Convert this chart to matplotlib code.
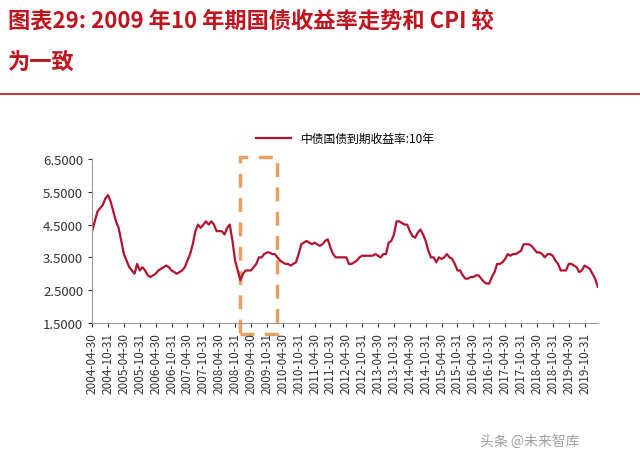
import matplotlib.pyplot as plt
from matplotlib import font_manager
from matplotlib.patches import Rectangle
from matplotlib.lines import Line2D

cjk = sorted({f.name for f in font_manager.fontManager.ttflist if "Sans CJK" in f.name})
cjk_name = "Noto Sans CJK SC" if "Noto Sans CJK SC" in cjk else (cjk[0] if cjk else "DejaVu Sans")
plt.rcParams["font.family"] = "sans-serif"
plt.rcParams["font.sans-serif"] = [cjk_name, "DejaVu Sans"]

# monthly 10y CGB yield, 2004-04 .. 2020-03
yields = [
    4.3, 4.6, 4.9, 5.0, 5.1, 5.3, 5.4, 5.2, 4.9,
    4.6, 4.4, 4.0, 3.6, 3.4, 3.2, 3.1, 3.0, 3.3, 3.1, 3.2, 3.1,
    2.95, 2.9, 2.95, 3.0, 3.1, 3.15, 3.2, 3.25, 3.2, 3.1, 3.05, 3.0,
    3.05, 3.1, 3.2, 3.4, 3.6, 3.9, 4.3, 4.5, 4.4, 4.5, 4.6, 4.5,
    4.6, 4.5, 4.3, 4.3, 4.3, 4.2, 4.4, 4.5, 4.0, 3.4, 3.1, 2.8,
    3.0, 3.1, 3.1, 3.1, 3.2, 3.3, 3.5, 3.5, 3.6, 3.65, 3.65, 3.6,
    3.6, 3.5, 3.4, 3.35, 3.3, 3.3, 3.25, 3.3, 3.35, 3.6, 3.9, 3.95,
    4.0, 3.95, 3.9, 3.95, 3.9, 3.85, 3.9, 4.0, 4.05, 3.8, 3.6, 3.5,
    3.5, 3.5, 3.5, 3.5, 3.3, 3.3, 3.35, 3.4, 3.5, 3.55, 3.55, 3.55,
    3.55, 3.55, 3.6, 3.55, 3.5, 3.6, 3.6, 3.95, 4.0, 4.2, 4.6, 4.6,
    4.55, 4.5, 4.5, 4.3, 4.15, 4.1, 4.25, 4.35, 4.2, 4.0, 3.7, 3.5,
    3.5, 3.35, 3.5, 3.45, 3.5, 3.6, 3.5, 3.45, 3.3, 3.1, 3.1, 2.95,
    2.85, 2.85, 2.9, 2.9, 2.95, 2.95, 2.85, 2.75, 2.7, 2.7, 2.9, 3.05,
    3.3, 3.3, 3.35, 3.45, 3.6, 3.55, 3.6, 3.6, 3.65, 3.7, 3.9, 3.9,
    3.9, 3.85, 3.75, 3.65, 3.65, 3.6, 3.5, 3.6, 3.6, 3.55, 3.4, 3.3,
    3.1, 3.1, 3.1, 3.3, 3.3, 3.25, 3.2, 3.05, 3.1, 3.25, 3.2, 3.15,
    3.0, 2.85, 2.6,
]
tick_labels = []
for yr in range(2004, 2020):
    tick_labels += [f"{yr}-04-30", f"{yr}-10-31"]
y_ticks = [1.5, 2.5, 3.5, 4.5, 5.5, 6.5]
box_months = [56, 70]  # highlighted window (month index)

fig = plt.figure(figsize=(6.4, 4.64), dpi=100)
fig.text(0.012, 0.955, "图表29: 2009 年10 年期国债收益率走势和 CPI 较",
         color="#c0141e", fontsize=16, fontweight="bold", style="italic", va="center")
fig.text(0.012, 0.865, "为一致", color="#c0141e", fontsize=16,
         fontweight="bold", style="italic", va="center")
fig.add_artist(Line2D([0.0, 1.0], [0.795, 0.795], color="#c0141e", lw=1.2))

ax = fig.add_axes([0.144, 0.302, 0.79, 0.353])
x = list(range(len(yields)))
ax.plot(x, yields, color="#b5122f", lw=1.6, label="中债国债到期收益率:10年")
ax.set_xlim(0, len(yields) - 1)
ax.set_ylim(1.5, 6.5)
ax.set_yticks(y_ticks)
ax.set_yticklabels([f"{v:.4f}" for v in y_ticks], fontsize=9.5)
ax.set_xticks(range(0, 6 * len(tick_labels), 6))
ax.set_xticklabels(tick_labels, rotation=90, fontsize=8.5)
for s in ["top", "right"]:
    ax.spines[s].set_visible(False)
for s in ["left", "bottom"]:
    ax.spines[s].set_color("#999999")
ax.tick_params(colors="#333333", length=3)
ax.legend(loc="lower center", bbox_to_anchor=(0.5, 1.02), frameon=False,
          fontsize=8.5, handlelength=3)

rect = Rectangle((box_months[0], 1.15), box_months[1] - box_months[0], 5.4,
                 fill=False, ec="#e8a060", lw=2.5, ls=(0, (4, 3)), clip_on=False)
ax.add_patch(rect)

fig.text(0.75, 0.04, "头条 @未来智库", color="#888888", fontsize=10, alpha=0.8)
fig.savefig("out.png", dpi=100)
